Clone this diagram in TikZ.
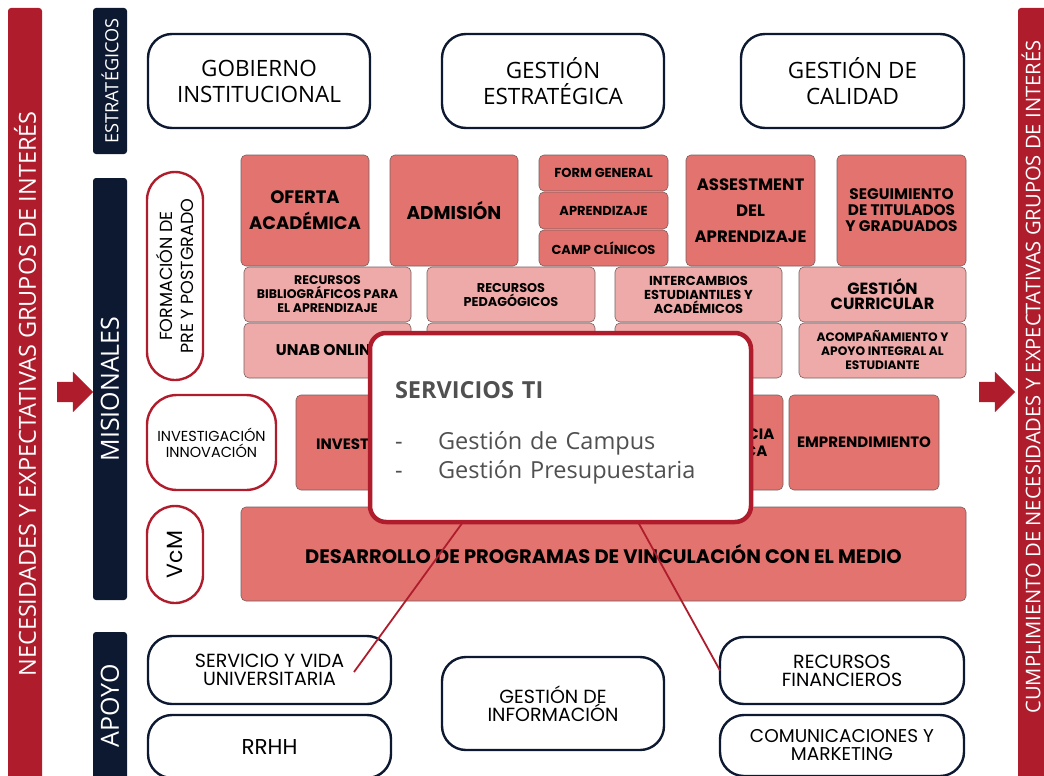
\documentclass[tikz,border=0pt]{standalone}
\usepackage{fontspec}
\setmainfont{Poppins}
\newfontfamily\opensans{Open Sans}
\usepackage{tikz}
\usetikzlibrary{shapes.arrows}
\definecolor{unabred}{RGB}{175,29,45}
\definecolor{unabnavy}{RGB}{13,25,49}
\definecolor{celldark}{RGB}{226,115,111}
\definecolor{celllight}{RGB}{238,170,168}
\definecolor{cellline}{RGB}{120,95,95}
\definecolor{popgray}{RGB}{80,80,80}

\begin{document}
\begin{tikzpicture}[x=1pt,y=-1pt,
                    every node/.style=  {inner sep=0pt,outer sep=0pt,align=center},
                    side bar/.style=    {fill=unabred,rounded corners=3pt,text=white},
                    navy bar/.style=    {fill=unabnavy,rounded corners=3pt,text=white,font=\opensans\fontsize{25}{28}\selectfont},
                    navy box/.style=    {draw=unabnavy,line width=2.4pt,fill=white,rounded corners=24pt},
                    red pill/.style=    {draw=unabred,line width=2.4pt,fill=white},
                    dark cell/.style=   {draw=cellline,line width=0.6pt,fill=celldark,rounded corners=5pt},
                    light cell/.style=  {draw=cellline,line width=0.6pt,fill=celllight,rounded corners=5pt},
                    red arrow/.style=   {single arrow,fill=unabred,inner sep=10pt,minimum height=36,single arrow head extend=10pt,single arrow head indent=0pt},
                    ti link/.style=     {draw=unabred,line width=1.8pt}]
  \useasboundingbox (0,0) rectangle (1044,776);
  \clip (0,0) rectangle (1044,776);

  % side bars and arrows
  \node[side bar,rotate=90,minimum width=772,minimum height=34,font=\opensans\fontsize{23.5}{26}\selectfont] (lbar) at (25,394) {NECESIDADES Y EXPECTATIVAS GRUPOS DE INTERÉS};
  \node[side bar,rotate=90,minimum width=772,minimum height=32] (rbar) at (1034,394) {};
  \node[rotate=90,text=white,font=\opensans\fontsize{20.2}{24}\selectfont] (rtxt) at (1031,377) {CUMPLIMIENTO DE NECESIDADES Y EXPECTATIVAS GRUPOS DE INTERÉS};
  \node[red arrow] (larrow) at (70,392) {};
  \node[red arrow] (rarrow) at (992,392) {};

  \node[navy bar,rotate=90,minimum width=146,minimum height=34,font=\opensans\fontsize{18.2}{20}\selectfont] (est) at (110,81) {ESTRATÉGICOS};
  \node[navy bar,rotate=90,minimum width=422,minimum height=34] (mis) at (110,389) {MISIONALES};
  \node[navy bar,rotate=90,minimum width=148,minimum height=34] (apo) at (110,706) {APOYO};

  % estrategicos
  \node[navy box,minimum width=222,minimum height=94,font=\opensans\fontsize{22.5}{26}\selectfont] (gob) at (259,81) {GOBIERNO\\INSTITUCIONAL};
  \node[navy box,minimum width=222,minimum height=94,font=\opensans\fontsize{22.5}{26}\selectfont] (gest) at (553,81) {GESTIÓN\\ESTRATÉGICA};
  \node[navy box,minimum width=223,minimum height=94,font=\opensans\fontsize{22.5}{26}\selectfont] (cal) at (852.5,81) {GESTIÓN DE\\CALIDAD};

  % misionales
  \node[red pill,rotate=90,minimum width=208,minimum height=56,rounded corners=28pt,font=\fontsize{17.5}{21}\selectfont] (form) at (175,276) {FORMACIÓN DE\\PRE Y POSTGRADO};
  \node[red pill,minimum width=129,minimum height=95,rounded corners=30pt,font=\fontsize{14.5}{16}\selectfont] (invpill) at (211.5,442.5) {INVESTIGACIÓN\\INNOVACIÓN};
  \node[red pill,rotate=90,minimum width=97,minimum height=56,rounded corners=28pt,font=\fontsize{22}{24}\selectfont] (vcm) at (175,554.5) {VcM};

  \node[dark cell,minimum width=128,minimum height=111,font=\bfseries\fontsize{18}{26}\selectfont] (oferta) at (305,210.5) {OFERTA\\ACADÉMICA};
  \node[dark cell,minimum width=128,minimum height=111,font=\bfseries\fontsize{18.5}{20}\selectfont] (admision) at (454,210.5) {ADMISIÓN};
  \node[dark cell,minimum width=129,minimum height=36,font=\bfseries\fontsize{13}{15}\selectfont] (formgen) at (603.5,173) {FORM GENERAL};
  \node[dark cell,minimum width=129,minimum height=37,font=\bfseries\fontsize{13}{15}\selectfont] (aprend) at (603.5,210.5) {APRENDIZAJE};
  \node[dark cell,minimum width=129,minimum height=36,font=\bfseries\fontsize{13}{15}\selectfont] (camp) at (603.5,248) {CAMP CLÍNICOS};
  \node[dark cell,minimum width=129,minimum height=111,font=\bfseries\fontsize{16.5}{26}\selectfont] (assess) at (750.5,210.5) {ASSESTMENT\\DEL\\APRENDIZAJE};
  \node[dark cell,minimum width=129,minimum height=111,font=\bfseries\fontsize{15.3}{16}\selectfont] (segui) at (901.5,210.5) {SEGUIMIENTO\\DE TITULADOS\\Y GRADUADOS};

  \node[light cell,minimum width=167,minimum height=55,font=\bfseries\fontsize{12.5}{14}\selectfont] (biblio) at (327.5,294.5) {RECURSOS\\BIBLIOGRÁFICOS PARA\\EL APRENDIZAJE};
  \node[light cell,minimum width=168,minimum height=55,font=\bfseries\fontsize{12.8}{14}\selectfont] (pedag) at (511,294.5) {RECURSOS\\PEDAGÓGICOS};
  \node[light cell,minimum width=167,minimum height=55,font=\bfseries\fontsize{13}{14}\selectfont] (inter) at (698.5,294.5) {INTERCAMBIOS\\ESTUDIANTILES Y\\ACADÉMICOS};
  \node[light cell,minimum width=167,minimum height=55,font=\bfseries\fontsize{16.2}{15}\selectfont] (curri) at (882.5,294.5) {GESTIÓN\\CURRICULAR};
  \node[light cell,minimum width=167,minimum height=55,font=\bfseries\fontsize{15.5}{16}\selectfont] (online) at (327.5,350.5) {UNAB ONLINE};
  \node[light cell,minimum width=168,minimum height=55] (cellb) at (511,350.5) {};
  \node[light cell,minimum width=167,minimum height=55] (cellc) at (698.5,350.5) {};
  \node[light cell,minimum width=167,minimum height=55,font=\bfseries\fontsize{12.2}{14}\selectfont] (acomp) at (882.5,350.5) {ACOMPAÑAMIENTO Y\\APOYO INTEGRAL AL\\ESTUDIANTE};

  \node[dark cell,minimum width=159,minimum height=95,font=\bfseries\fontsize{15}{16}\selectfont] (invest) at (375.5,442.5) {INVESTIGACIÓN};
  \node[dark cell,minimum width=175,minimum height=95] (invmid) at (549.5,442.5) {};
  \node[dark cell,minimum width=140,minimum height=95,font=\bfseries\fontsize{15}{17}\selectfont] (transf) at (713,442.5) {TRANSFERENCIA\\TECNOLÓGICA};
  \node[dark cell,minimum width=150,minimum height=95,font=\bfseries\fontsize{15}{16}\selectfont] (empr) at (864,442.5) {EMPRENDIMIENTO};

  \node[dark cell,minimum width=725,minimum height=94,font=\bfseries\fontsize{19.5}{20}\selectfont] (desarr) at (603.5,554) {DESARROLLO DE PROGRAMAS DE VINCULACIÓN CON EL MEDIO};

  % apoyo
  \node[navy box,minimum width=243,minimum height=68,font=\fontsize{19}{18}\selectfont] (serv) at (269.5,670) {SERVICIO Y VIDA\\UNIVERSITARIA};
  \node[navy box,minimum width=243,minimum height=63,font=\fontsize{21.5}{19}\selectfont] (rrhh) at (269.5,746.5) {RRHH};
  \node[navy box,minimum width=222,minimum height=93,font=\fontsize{19}{18}\selectfont] (info) at (553,703.5) {GESTIÓN DE\\INFORMACIÓN};
  \node[navy box,minimum width=244,minimum height=67,font=\fontsize{19}{18}\selectfont] (fin) at (842,670.5) {RECURSOS\\FINANCIEROS};
  \node[navy box,minimum width=244,minimum height=61,font=\fontsize{18.5}{18}\selectfont] (com) at (842,745.5) {COMUNICACIONES Y\\MARKETING};

  % servicios ti
  \node[draw=unabred,line width=4.5pt,fill=white,rounded corners=16pt,minimum width=381,minimum height=189,
        text width=331,align=left,text=popgray,font=\opensans\fontsize{23.5}{29}\selectfont] (ti) at (560.5,427.5)
       {\rule{0pt}{28pt}{\bfseries\fontsize{23.5}{24}\selectfont SERVICIOS TI}\\[22pt]
        \makebox[43pt][l]{-}Gestión de Campus\\
        \makebox[43pt][l]{-}Gestión Presupuestaria};
  \coordinate (svA) at (354,672);
  \draw[ti link] ([xshift=93]ti.south west) -- (svA);
  \draw[ti link] ([xshift=268]ti.south west) -- (fin.west);
\end{tikzpicture}
\end{document}
